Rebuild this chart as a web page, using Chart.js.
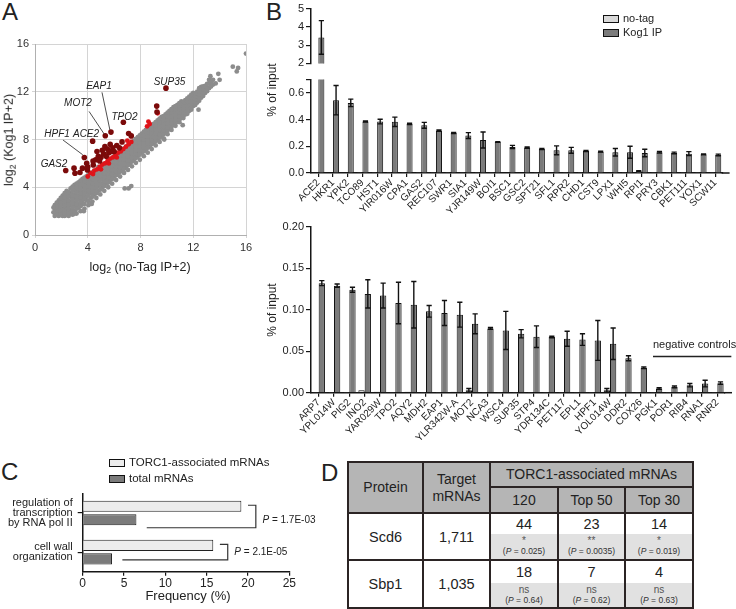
<!DOCTYPE html>
<html>
<head>
<meta charset="utf-8">
<title>Kog1 IP figure</title>
<script src="https://cdn.jsdelivr.net/npm/chart.js@4.4.1/dist/chart.umd.min.js"></script>
<style>
  body { margin: 0; background: #fff; }
  #fig { position: relative; width: 736px; height: 609px; overflow: hidden;
         font-family: "Liberation Sans", Arial, sans-serif; color: #222; }
  #fig canvas { position: absolute; }
  .txt { position: absolute; white-space: nowrap; line-height: 1; }
  .panel { position: absolute; font-size: 24px; line-height: 1; }
  .rot { transform: translate(-50%, -50%) rotate(-90deg); }
  .ctr { transform: translate(-50%, -50%); }
  .box { position: absolute; border: 1px solid #111; box-sizing: border-box; }
  sub { font-size: 70%; vertical-align: -0.3em; line-height: 0; }
  #tbl { position: absolute; background: #2b2424; }
  #tbl .cell { position: absolute; display: flex; flex-direction: column;
               align-items: center; justify-content: center; text-align: center; }
  #tbl .hdr { background: #b5b5b5; font-size: 14px; line-height: 17px; }
  #tbl .body { background: #fff; font-size: 14.5px; }
  #tbl .num { position: absolute; left: 0; right: 0; top: 0; display: flex;
              align-items: center; justify-content: center; font-size: 14.5px; background: #fff; }
  #tbl .pv { position: absolute; left: 0; right: 0; bottom: 0; background: #e1e1e1;
             display: flex; flex-direction: column; align-items: center; justify-content: center; }
  #tbl .sig { font-size: 10px; color: #555; line-height: 10px; }
  #tbl .pp { font-size: 8.5px; color: #333; line-height: 11px; }
</style>
</head>
<body>
<div id="fig">
  <div class="panel" style="left:2px;top:0px">A</div>
  <div class="panel" style="left:266px;top:0px">B</div>
  <div class="panel" style="left:1px;top:460px">C</div>
  <div class="panel" style="left:321px;top:461px">D</div>

  <canvas id="chartA" width="258" height="262" style="left:0;top:0"></canvas>
  <div class="txt rot" style="left:9px;top:140px;font-size:12.5px">log<sub>2</sub> (Kog1 IP+2)</div>
  <div class="txt ctr" style="left:140px;top:267px;font-size:12.5px">log<sub>2</sub> (no-Tag IP+2)</div>

  <canvas id="chartBup" width="476" height="72" style="left:260px;top:0"></canvas>
  <canvas id="chartBlow" width="476" height="160" style="left:260px;top:70px"></canvas>
  <canvas id="chartB2" width="476" height="235" style="left:260px;top:215px"></canvas>
  <div class="txt rot" style="left:272px;top:90px;font-size:12px">% of input</div>
  <div class="txt rot" style="left:272px;top:310px;font-size:12px">% of input</div>
  <div class="box" style="left:603px;top:15px;width:16px;height:8px;background:#d9d9d9"></div>
  <div class="txt" style="left:623px;top:13px;font-size:11px">no-tag</div>
  <div class="box" style="left:603px;top:29px;width:16px;height:8px;background:#7b7b7b"></div>
  <div class="txt" style="left:623px;top:27px;font-size:11px">Kog1 IP</div>

  <canvas id="chartC" width="330" height="131" style="left:0;top:478px"></canvas>
  <div class="box" style="left:109px;top:459px;width:16px;height:8px;background:#ececec"></div>
  <div class="txt" style="left:129px;top:457px;font-size:11.5px">TORC1-associated mRNAs</div>
  <div class="box" style="left:109px;top:475px;width:16px;height:8px;background:#7b7b7b"></div>
  <div class="txt" style="left:129px;top:473px;font-size:11.5px">total mRNAs</div>
  <div class="txt ctr" style="left:188px;top:595px;font-size:13px">Frequency (%)</div>

  <div id="tbl"></div>
</div>

<script>
// ==========================================
// DATA
// ==========================================

// Panel A: log2 values
const aTicks = [0, 4, 8, 12, 16];
// gray cloud, one row per x: [x, [y values]]
const grayCols = [
    [1.5, [1.6, 1.9, 2.2, 2.5]],
    [1.8, [1.6, 1.9, 2.3, 2.6, 2.9]],
    [2.1, [1.6, 1.9, 2.2, 2.6, 2.9, 3.3]],
    [2.4, [1.7, 2.0, 2.3, 2.7, 3.0, 3.4, 3.7]],
    [2.7, [1.8, 2.1, 2.5, 2.8, 3.2, 3.5, 3.9]],
    [3.0, [2.0, 2.4, 2.7, 3.1, 3.4, 3.8, 4.2]],
    [3.3, [2.3, 2.6, 3.0, 3.3, 3.7, 4.0, 4.4]],
    [3.6, [2.6, 2.9, 3.3, 3.6, 4.0, 4.3, 4.7]],
    [3.9, [2.9, 3.2, 3.6, 3.9, 4.3, 4.6, 4.9]],
    [4.2, [3.1, 3.5, 3.8, 4.2, 4.5, 4.8, 5.1]],
    [4.5, [3.4, 3.8, 4.1, 4.5, 4.8, 5.1, 5.4]],
    [4.8, [3.7, 4.1, 4.4, 4.8, 5.1, 5.4, 5.7]],
    [5.1, [4.0, 4.3, 4.7, 5.0, 5.3, 5.6, 5.9]],
    [5.4, [4.3, 4.6, 5.0, 5.3, 5.6, 6.0]],
    [5.7, [4.6, 4.9, 5.3, 5.6, 5.9, 6.3]],
    [6.0, [4.9, 5.2, 5.5, 5.9, 6.2, 6.6]],
    [6.3, [5.2, 5.5, 5.8, 6.2, 6.5, 6.8]],
    [6.6, [5.4, 5.8, 6.1, 6.4, 6.8, 7.1]],
    [6.9, [5.7, 6.1, 6.4, 6.7, 7.0, 7.4]],
    [7.2, [6.0, 6.3, 6.7, 7.0, 7.3, 7.6]],
    [7.5, [6.3, 6.6, 6.9, 7.3, 7.6, 7.9]],
    [7.8, [6.6, 6.9, 7.2, 7.5, 7.9, 8.2]],
    [8.1, [6.9, 7.2, 7.5, 7.8, 8.1, 8.5]],
    [8.4, [7.1, 7.5, 7.8, 8.1, 8.4, 8.8]],
    [8.7, [7.4, 7.8, 8.1, 8.4, 8.7, 9.0]],
    [9.0, [7.7, 8.0, 8.4, 8.7, 9.0, 9.3]],
    [9.3, [8.0, 8.3, 8.6, 9.0, 9.3, 9.6]],
    [9.6, [8.3, 8.6, 8.9, 9.2, 9.5, 9.9]],
    [9.9, [8.6, 8.9, 9.2, 9.5, 9.8, 10.1]],
    [10.2, [8.9, 9.2, 9.5, 9.8, 10.1, 10.4]],
    [10.5, [9.2, 9.5, 9.8, 10.1, 10.4, 10.7]],
    [10.8, [9.5, 9.8, 10.1, 10.4, 10.7, 10.9]],
    [11.1, [9.8, 10.1, 10.4, 10.7, 11.0, 11.2]],
    [11.4, [10.1, 10.4, 10.7, 11.0, 11.3]],
    [11.7, [10.4, 10.7, 11.0, 11.3, 11.6]],
    [12.0, [10.8, 11.1, 11.4, 11.7, 11.9]],
    [12.3, [11.1, 11.4, 11.7, 12.0]],
    [12.6, [11.5, 11.8, 12.1, 12.4]],
    [12.9, [11.9, 12.2, 12.5]],
    [13.2, [12.3, 12.7, 13.0]],
    [13.5, [12.6, 13.0]]
];
// second, staggered pass over the cloud (includes the fuzzier lower edge)
const grayCols2 = [
    [1.65, [1.75, 2.05, 2.35, 2.7]],
    [1.95, [1.75, 2.1, 2.45, 2.75, 3.1]],
    [2.25, [1.6, 1.85, 2.15, 2.45, 2.8, 3.15, 3.5]],
    [2.55, [1.6, 1.9, 2.2, 2.55, 2.9, 3.25, 3.6]],
    [2.85, [1.7, 2.0, 2.3, 2.65, 3.0, 3.35, 3.7, 4.05]],
    [3.15, [1.8, 2.2, 2.55, 2.9, 3.25, 3.6, 3.95, 4.3]],
    [3.45, [2.0, 2.4, 2.8, 3.15, 3.5, 3.85, 4.2, 4.55]],
    [3.75, [2.2, 2.6, 3.1, 3.45, 3.8, 4.15, 4.5, 4.8]],
    [4.05, [2.5, 2.85, 3.35, 3.7, 4.05, 4.4, 4.75, 5.05]],
    [4.35, [2.8, 3.2, 3.65, 4.0, 4.35, 4.7, 5.0, 5.25]],
    [4.65, [3.1, 3.5, 3.95, 4.3, 4.65, 5.0, 5.3]],
    [4.95, [3.4, 3.8, 4.25, 4.6, 4.95, 5.25, 5.55]],
    [5.25, [3.7, 4.1, 4.5, 4.85, 5.2, 5.5, 5.8]],
    [5.55, [4.0, 4.4, 4.8, 5.15, 5.45, 5.8, 6.1]],
    [5.85, [4.3, 4.7, 5.1, 5.45, 5.75, 6.1, 6.4]],
    [6.15, [4.6, 5.0, 5.35, 5.7, 6.05, 6.4, 6.7]],
    [6.45, [4.9, 5.3, 5.65, 6.0, 6.35, 6.65, 6.95]],
    [6.75, [5.2, 5.55, 5.95, 6.3, 6.6, 6.95, 7.25]],
    [7.05, [5.45, 5.85, 6.25, 6.55, 6.9, 7.2, 7.5]],
    [7.35, [5.75, 6.15, 6.5, 6.85, 7.15, 7.45, 7.75]],
    [7.65, [6.05, 6.45, 6.8, 7.1, 7.45, 7.75, 8.05]],
    [7.95, [6.3, 6.75, 7.05, 7.4, 7.7, 8.05, 8.35]],
    [8.25, [6.6, 7.0, 7.35, 7.65, 8.0, 8.3, 8.65]],
    [8.55, [6.9, 7.3, 7.65, 7.95, 8.25, 8.6, 8.9]],
    [8.85, [7.2, 7.6, 7.95, 8.25, 8.55, 8.85, 9.15]],
    [9.15, [7.5, 7.85, 8.2, 8.5, 8.85, 9.15, 9.45]],
    [9.45, [7.8, 8.15, 8.45, 8.8, 9.1, 9.4, 9.75]],
    [9.75, [8.1, 8.45, 8.75, 9.05, 9.35, 9.65, 9.95]],
    [10.05, [8.45, 8.75, 9.05, 9.35, 9.65, 9.95, 10.25]],
    [10.35, [8.8, 9.1, 9.35, 9.65, 9.95, 10.25, 10.55]],
    [10.65, [9.15, 9.4, 9.65, 9.95, 10.25, 10.55, 10.8]],
    [10.95, [9.45, 9.7, 9.95, 10.25, 10.55, 10.85, 11.05]],
    [11.25, [9.8, 10.0, 10.3, 10.55, 10.85, 11.15]],
    [11.55, [10.15, 10.35, 10.6, 10.85, 11.15, 11.45]],
    [11.85, [10.5, 10.7, 10.95, 11.2, 11.5, 11.75]],
    [12.15, [10.9, 11.1, 11.35, 11.6, 11.85]],
    [12.45, [11.25, 11.5, 11.75, 12.05, 12.3]],
    [12.75, [11.65, 11.9, 12.2, 12.45]],
    [13.05, [12.05, 12.35, 12.65]],
    [13.35, [12.45, 12.8]]
];
const grayOutliers = [[13.9, 13.5], [13.3, 13.3], [15.0, 14.1], [15.3, 13.7], [15.4, 14.0], [16.0, 15.2],
    [6.8, 3.9], [7.1, 3.9], [7.3, 4.1], [3.7, 2.0], [11.2, 9.2], [12.4, 10.5], [9.8, 8.0], [3.0, 1.8], [4.3, 2.6],
    [1.4, 1.9], [1.4, 2.3], [14.0, 13.0], [13.7, 12.7]];
const redPts = [[4.0, 4.9], [4.2, 5.2], [4.4, 5.1], [4.5, 5.4], [4.7, 5.5], [4.9, 5.7], [5.0, 5.5], [5.1, 5.9],
    [5.3, 6.0], [5.5, 6.2], [5.6, 6.0], [5.7, 6.4], [5.9, 6.5], [6.1, 6.7], [6.2, 6.5], [6.3, 6.9], [6.5, 7.0],
    [6.7, 7.2], [6.9, 7.4], [7.0, 7.9], [7.1, 7.6], [7.3, 7.8], [8.5, 9.1], [8.6, 9.5], [8.7, 9.3], [9.3, 10.2]];
const darkPts = [[9.23, 10.8], [9.25, 10.3], [7.1, 8.5], [7.3, 8.3], [2.96, 5.6], [3.41, 5.23], [3.03, 5.17],
    [3.92, 6.0], [3.97, 5.45], [4.42, 5.87], [4.6, 6.3], [4.8, 6.6], [4.7, 7.0], [5.0, 6.5], [5.1, 7.1], [5.2, 6.8],
    [5.3, 7.4], [5.5, 7.2], [5.6, 6.9], [5.7, 7.6], [5.9, 7.3], [6.0, 7.0], [6.2, 7.5], [6.4, 7.3], [5.4, 6.6],
    [4.9, 6.2], [6.6, 7.8], [5.8, 7.0], [4.4, 6.2], [4.0, 5.7], [3.6, 5.6]];
const aGenes = ['GAS2', 'HPF1', 'ACE2', 'MOT2', 'EAP1', 'TPO2', 'SUP35'];
const aGenePts = [[2.33, 5.4], [3.74, 6.49], [4.37, 7.86], [5.33, 8.31], [5.76, 8.62], [6.7, 9.45], [9.93, 12.3]];

// Panel B top: % of input
const topGenes = ['ACE2', 'HKR1', 'YPK2', 'TCO89', 'HST1', 'YIR016W', 'CPA1', 'GAS2', 'REC107', 'SWR1', 'SIA1',
    'YJR149W', 'BOI1', 'BSC1', 'GSC2', 'SPT21', 'SFL1', 'RPR2', 'CHD1', 'CST9', 'LPX1', 'WHI5', 'RPI1', 'PRY3',
    'CBK1', 'PET111', 'YOX1', 'SCW11'];
const topKog = [3.42, 0.545, 0.525, 0.385, 0.385, 0.383, 0.367, 0.357, 0.317, 0.30, 0.28, 0.247, 0.232, 0.195,
    0.19, 0.18, 0.17, 0.17, 0.165, 0.16, 0.155, 0.155, 0.15, 0.155, 0.15, 0.145, 0.14, 0.135];
const topKogErr = [0.92, 0.11, 0.028, 0.004, 0.017, 0.035, 0.005, 0.022, 0.005, 0.004, 0.022, 0.06, 0.003, 0.012,
    0.005, 0.004, 0.033, 0.022, 0.004, 0.003, 0.028, 0.045, 0.028, 0.006, 0.006, 0.015, 0.003, 0.006];
const topNoTag = [0.004, 0.002, 0.003, 0.001, 0.001, 0.001, 0.001, 0.001, 0.001, 0.001, 0.001, 0.001, 0.001, 0.004,
    0.002, 0.001, 0.003, 0.001, 0.001, 0.001, 0.003, 0.001, 0.014, 0.001, 0.001, 0.001, 0.001, 0.001];
const topNoTagErr = [0, 0, 0, 0, 0, 0, 0, 0, 0, 0, 0, 0, 0, 0, 0, 0, 0, 0, 0, 0, 0, 0, 0.003, 0, 0, 0, 0, 0];
const topUpTicks = [2, 3, 4, 5];
const topLowTicks = [0, 0.2, 0.4, 0.6, 0.7];

// Panel B bottom: % of input
const botGenes = ['ARP7', 'YPL014W', 'PIG2', 'INO2', 'YAR029W', 'TPO2', 'AQY2', 'MDH2', 'EAP1', 'YLR342W-A',
    'MOT2', 'NCA3', 'WSC4', 'SUP35', 'STP4', 'YDR134C', 'PET117', 'EPL1', 'HPF1', 'YOL014W', 'DDR2', 'COX26',
    'PGK1', 'POR1', 'RIB4', 'RNA1', 'RNR2'];
const botKog = [0.132, 0.129, 0.124, 0.119, 0.117, 0.108, 0.106, 0.098, 0.096, 0.094, 0.083, 0.0775, 0.075,
    0.071, 0.0675, 0.067, 0.065, 0.064, 0.063, 0.059, 0.0415, 0.030, 0.005, 0.007, 0.009, 0.011, 0.0115];
const botKogErr = [0.003, 0.002, 0.003, 0.017, 0.015, 0.025, 0.028, 0.007, 0.015, 0.015, 0.012, 0.001, 0.023,
    0.005, 0.013, 0.001, 0.009, 0.007, 0.024, 0.019, 0.003, 0.001, 0.001, 0.001, 0.002, 0.004, 0.0015];
const botNoTag = [0.0005, 0.0005, 0.0005, 0.003, 0.001, 0.0005, 0.001, 0.0005, 0.0005, 0.001, 0.003, 0.0005,
    0.0005, 0.0005, 0.0005, 0.0005, 0.0005, 0.0005, 0.0005, 0.003, 0.0005, 0.0005, 0.0005, 0.0005, 0.001, 0.0005, 0.0005];
const botNoTagErr = [0, 0, 0, 0, 0, 0, 0, 0, 0, 0, 0.002, 0, 0, 0, 0, 0, 0, 0, 0, 0.002, 0, 0, 0, 0, 0, 0, 0];
const botTicks = [0, 0.05, 0.10, 0.15, 0.20];
const negControls = ['PGK1', 'RNR2'];

// Panel C: GO term frequency (%)
const cCats = [['regulation of', 'transcription', 'by RNA pol II'], ['cell wall', 'organization']];
const cTorc = [19.2, 15.8];
const cTotal = [6.5, 3.55];
const cPvals = ['1.7E-03', '2.1E-05'];
const cTicks = [0, 5, 10, 15, 20, 25];

// Panel D: table
const dProteins = ['Scd6', 'Sbp1'];
const dTargets = ['1,711', '1,035'];
const dSubsets = ['120', 'Top 50', 'Top 30'];
const dOverlap = [[44, 23, 14], [18, 7, 4]];
const dSignif = [['*', '**', '*'], ['ns', 'ns', 'ns']];
const dPvals = [['0.025', '0.0035', '0.019'], ['0.64', '0.62', '0.63']];

// ==========================================
// SHARED STYLE / PLUGINS
// ==========================================
const FONT = '"Liberation Sans", Arial, sans-serif';
const AX = '#161616';
Chart.defaults.font.family = FONT;
Chart.defaults.color = '#222';

const errorBars = {
    id: 'errorBars',
    afterDatasetsDraw(chart) {
        const ctx = chart.ctx, y = chart.scales.y, a = chart.chartArea;
        ctx.save();
        ctx.beginPath();
        ctx.rect(a.left, a.top - 2, a.right - a.left, a.bottom - a.top + 2);
        ctx.clip();
        ctx.strokeStyle = '#111';
        ctx.lineWidth = 1.4;
        chart.data.datasets.forEach((ds, i) => {
            if (!ds.errors) return;
            chart.getDatasetMeta(i).data.forEach((bar, j) => {
                const v = ds.data[j], e = ds.errors[j];
                if (v == null || !e) return;
                const hi = y.getPixelForValue(v + e), lo = y.getPixelForValue(Math.max(v - e, 0));
                const cw = 2.6;
                ctx.beginPath();
                ctx.moveTo(bar.x, hi); ctx.lineTo(bar.x, lo);
                ctx.moveTo(bar.x - cw, hi); ctx.lineTo(bar.x + cw, hi);
                ctx.moveTo(bar.x - cw, lo); ctx.lineTo(bar.x + cw, lo);
                ctx.stroke();
            });
        });
        ctx.restore();
    }
};

// x axis line runs a few px past the last category
const axisTail = {
    id: 'axisTail',
    afterDraw(chart) {
        const a = chart.chartArea, ctx = chart.ctx;
        ctx.save();
        ctx.strokeStyle = AX;
        ctx.lineWidth = 1.5;
        ctx.beginPath();
        ctx.moveTo(a.right - 1, a.bottom);
        ctx.lineTo(a.right + 7, a.bottom);
        ctx.stroke();
        ctx.restore();
    }
};

function bChart(id, genes, noTag, noTagErr, kog, kogErr, cfg) {
    return new Chart(document.getElementById(id), {
        type: 'bar',
        data: {
            labels: genes,
            datasets: [
                { label: 'no-tag', data: noTag, errors: noTagErr, backgroundColor: '#d9d9d9',
                  borderColor: '#111', borderWidth: 1, categoryPercentage: 0.82, barPercentage: 1, clip: 0 },
                { label: 'Kog1 IP', data: kog, errors: kogErr, backgroundColor: '#7b7b7b',
                  borderColor: '#111', borderWidth: 1, categoryPercentage: 0.82, barPercentage: 1, clip: 0 }
            ]
        },
        options: {
            responsive: false,
            animation: false,
            layout: { padding: cfg.pad },
            plugins: { legend: { display: false }, tooltip: { enabled: false } },
            scales: {
                x: {
                    display: cfg.showX,
                    grid: { offset: false, drawOnChartArea: false, tickLength: 4, color: AX, lineWidth: 1.2 },
                    border: { color: AX, width: 1.5 },
                    ticks: { autoSkip: false, minRotation: 45, maxRotation: 45, padding: 0,
                             font: { size: 10 }, color: '#222' },
                    afterFit: s => { s.height = cfg.xH; }
                },
                y: {
                    min: cfg.ticks[0],
                    max: cfg.ticks[cfg.ticks.length - 1],
                    afterBuildTicks: s => { s.ticks = cfg.ticks.map(v => ({ value: v })); },
                    ticks: { callback: cfg.fmt, padding: 2, font: { size: 11 }, color: '#222' },
                    grid: { drawOnChartArea: false, tickLength: 5, color: AX, lineWidth: 1.2 },
                    border: { color: AX, width: 1.5 },
                    afterFit: s => { s.width = 51; }
                }
            }
        },
        plugins: [errorBars].concat(cfg.plugins || [])
    });
}

// ==========================================
// PANEL A - SCATTER
// ==========================================
const aLabelStyle = {
    GAS2: { tx: 1.44, ty: 5.95 },
    HPF1: { tx: 1.67, ty: 8.46, line: [2.12, 7.96, 3.62, 6.72] },
    ACE2: { tx: 3.87, ty: 8.46 },
    MOT2: { tx: 3.26, ty: 11.05, line: [4.1, 10.35, 5.25, 8.45] },
    EAP1: { tx: 4.85, ty: 12.5, line: [5.08, 11.95, 5.68, 8.8] },
    TPO2: { tx: 6.79, ty: 9.88 },
    SUP35: { tx: 10.2, ty: 12.8 }
};

const geneLabels = {
    id: 'geneLabels',
    afterDatasetsDraw(chart) {
        const ctx = chart.ctx, xs = chart.scales.x, ys = chart.scales.y;
        ctx.save();
        ctx.font = 'italic 10px ' + FONT;
        ctx.fillStyle = '#222';
        ctx.strokeStyle = '#222';
        ctx.lineWidth = 0.8;
        ctx.textAlign = 'center';
        ctx.textBaseline = 'middle';
        aGenes.forEach(g => {
            const s = aLabelStyle[g];
            ctx.fillText(g, xs.getPixelForValue(s.tx), ys.getPixelForValue(s.ty));
            if (s.line) {
                ctx.beginPath();
                ctx.moveTo(xs.getPixelForValue(s.line[0]), ys.getPixelForValue(s.line[1]));
                ctx.lineTo(xs.getPixelForValue(s.line[2]), ys.getPixelForValue(s.line[3]));
                ctx.stroke();
            }
        });
        ctx.restore();
    }
};

const grayData = [];
grayCols.concat(grayCols2).forEach(([x, ys]) => ys.forEach(y => grayData.push({ x: x, y: y })));
grayOutliers.forEach(([x, y]) => grayData.push({ x: x, y: y }));

const aAxis = {
    type: 'linear', min: 0, max: 16,
    afterBuildTicks: s => { s.ticks = aTicks.map(v => ({ value: v })); },
    grid: { color: '#d4d4d4', lineWidth: 1, tickLength: 3 },
    border: { color: '#b0b0b0', width: 1 },
    ticks: { font: { size: 11 }, color: '#333', padding: 3 }
};

new Chart(document.getElementById('chartA'), {
    type: 'scatter',
    data: {
        datasets: [
            { data: darkPts.concat(aGenePts).map(p => ({ x: p[0], y: p[1] })), order: 0,
              backgroundColor: '#7b0a0a', pointRadius: 2.8, borderWidth: 0 },
            { data: redPts.map(p => ({ x: p[0], y: p[1] })), order: 1,
              backgroundColor: '#e0141a', pointRadius: 2.4, borderWidth: 0 },
            { data: grayData, order: 2, backgroundColor: '#8c8c8c', pointRadius: 2.4, borderWidth: 0 }
        ]
    },
    options: {
        responsive: false,
        animation: false,
        layout: { padding: { top: 44, right: 12, left: 0, bottom: 0 } },
        plugins: { legend: { display: false }, tooltip: { enabled: false } },
        scales: {
            x: Object.assign({}, aAxis, { afterFit: s => { s.height = 27; } }),
            y: Object.assign({}, aAxis, { afterFit: s => { s.width = 35; } })
        }
    },
    plugins: [geneLabels]
});

// ==========================================
// PANEL B - BAR CHARTS
// ==========================================
bChart('chartBup', topGenes, topNoTag.map(() => null), topNoTagErr,
    topKog.map(v => (v >= topUpTicks[0] ? v : null)), topKogErr, {
        showX: false, xH: 0, ticks: topUpTicks,
        pad: { top: 6, bottom: 3, left: 0, right: 13.4 },
        fmt: v => String(v)
    });

bChart('chartBlow', topGenes, topNoTag, topNoTagErr, topKog, topKogErr, {
    showX: true, xH: 57, ticks: topLowTicks,
    pad: { top: 9.5, bottom: 0, left: 0, right: 13.4 },
    fmt: v => (v > 0.65 ? '' : v.toFixed(1)),
    plugins: [axisTail]
});

const negLabel = {
    id: 'negLabel',
    afterDraw(chart) {
        const ctx = chart.ctx, xs = chart.scales.x, ys = chart.scales.y;
        const x0 = xs.getPixelForValue(botGenes.indexOf(negControls[0])) - 3;
        const x1 = xs.getPixelForValue(botGenes.indexOf(negControls[1])) + 14;
        const yl = ys.getPixelForValue(0.0437);
        ctx.save();
        ctx.strokeStyle = '#222';
        ctx.lineWidth = 1.5;
        ctx.beginPath();
        ctx.moveTo(x0, yl); ctx.lineTo(x1, yl);
        ctx.stroke();
        ctx.font = '11px ' + FONT;
        ctx.fillStyle = '#222';
        ctx.textBaseline = 'middle';
        ctx.fillText('negative controls', x0, yl - 11);
        ctx.restore();
    }
};

bChart('chartB2', botGenes, botNoTag, botNoTagErr, botKog, botKogErr, {
    showX: true, xH: 57.3, ticks: botTicks,
    pad: { top: 11.7, bottom: 0, left: 0, right: 11 },
    fmt: v => v.toFixed(2),
    plugins: [axisTail, negLabel]
});

// ==========================================
// PANEL C - HORIZONTAL BARS
// ==========================================
const cBracketStyle = { topGap: 0.8, armOut: 1.75, botGap: 1.25, drop: [8, 1], textGap: 0.8 };

const cBrackets = {
    id: 'cBrackets',
    afterDatasetsDraw(chart) {
        const ctx = chart.ctx, xs = chart.scales.x, st = cBracketStyle;
        ctx.save();
        ctx.strokeStyle = '#333';
        ctx.lineWidth = 1.2;
        ctx.fillStyle = '#222';
        ctx.textBaseline = 'middle';
        cPvals.forEach((p, i) => {
            const a = chart.getDatasetMeta(0).data[i], b = chart.getDatasetMeta(1).data[i];
            const xv = cTorc[i] + st.armOut;
            const xr = xs.getPixelForValue(xv);
            const yt = a.y - 1, yb = b.y + st.drop[i];
            ctx.beginPath();
            ctx.moveTo(xs.getPixelForValue(cTorc[i] + st.topGap), yt);
            ctx.lineTo(xr, yt);
            ctx.lineTo(xr, yb);
            ctx.lineTo(xs.getPixelForValue(cTotal[i] + st.botGap), yb);
            ctx.stroke();
            const tx = xs.getPixelForValue(xv + st.textGap), ty = (yt + yb) / 2 + (i === 0 ? 4 : 0);
            ctx.font = 'italic 10px ' + FONT;
            ctx.fillText('P', tx, ty);
            const w = ctx.measureText('P').width;
            ctx.font = '10px ' + FONT;
            ctx.fillText(' = ' + p, tx + w, ty);
        });
        ctx.restore();
    }
};

new Chart(document.getElementById('chartC'), {
    type: 'bar',
    data: {
        labels: cCats,
        datasets: [
            { label: 'TORC1-associated mRNAs', data: cTorc, backgroundColor: '#ececec', borderColor: '#222',
              borderWidth: 1, categoryPercentage: 0.69, barPercentage: 0.82 },
            { label: 'total mRNAs', data: cTotal, backgroundColor: '#7b7b7b', borderColor: '#222',
              borderWidth: 1, categoryPercentage: 0.69, barPercentage: 0.82 }
        ]
    },
    options: {
        indexAxis: 'y',
        responsive: false,
        animation: false,
        layout: { padding: { top: 9, right: 40.7, left: 0, bottom: 0 } },
        plugins: { legend: { display: false }, tooltip: { enabled: false } },
        scales: {
            x: {
                min: 0, max: 25,
                afterBuildTicks: s => { s.ticks = cTicks.map(v => ({ value: v })); },
                grid: { drawOnChartArea: false, tickLength: 4, color: AX, lineWidth: 1.2 },
                border: { color: AX, width: 1.5 },
                ticks: { font: { size: 12 }, color: '#222', padding: 1 },
                afterFit: s => { s.height = 37.3; }
            },
            y: {
                grid: { offset: false, drawOnChartArea: false, tickLength: 5, color: AX, lineWidth: 1.2 },
                border: { color: AX, width: 1.5 },
                ticks: { font: { size: 11, lineHeight: 0.95 }, color: '#222', padding: 5 },
                afterFit: s => { s.width = 82.7; }
            }
        }
    },
    plugins: [cBrackets]
});

// ==========================================
// PANEL D - TABLE
// ==========================================
const dColX = [348, 423, 490, 558, 625, 693];
const dRowY = [462, 487, 513, 534, 560, 583, 608];

function buildTable() {
    const tbl = document.getElementById('tbl');
    const ox = dColX[0] - 1, oy = dRowY[0] - 1;
    tbl.style.left = ox + 'px';
    tbl.style.top = oy + 'px';
    tbl.style.width = (dColX[5] - dColX[0] + 2) + 'px';
    tbl.style.height = (dRowY[6] - dRowY[0] + 2) + 'px';

    function cell(c0, c1, r0, r1, cls, html) {
        const d = document.createElement('div');
        d.className = 'cell ' + cls;
        d.style.left = (dColX[c0] - ox + 1) + 'px';
        d.style.top = (dRowY[r0] - oy + 1) + 'px';
        d.style.width = (dColX[c1] - dColX[c0] - 2) + 'px';
        d.style.height = (dRowY[r1] - dRowY[r0] - 2) + 'px';
        d.innerHTML = html;
        tbl.appendChild(d);
        return d;
    }

    cell(0, 1, 0, 2, 'hdr', 'Protein');
    cell(1, 2, 0, 2, 'hdr', 'Target<br>mRNAs');
    cell(2, 5, 0, 1, 'hdr', 'TORC1-associated mRNAs');
    dSubsets.forEach((s, k) => cell(2 + k, 3 + k, 1, 2, 'hdr', s));

    dProteins.forEach((p, r) => {
        const r0 = 2 + r * 2;
        cell(0, 1, r0, r0 + 2, 'body', p);
        cell(1, 2, r0, r0 + 2, 'body', dTargets[r]);
        dSubsets.forEach((s, k) => {
            const d = cell(2 + k, 3 + k, r0, r0 + 2, 'body', '');
            const split = dRowY[r0 + 1] - dRowY[r0] - 1;
            d.innerHTML =
                '<div class="num" style="height:' + split + 'px">' + dOverlap[r][k] + '</div>' +
                '<div class="pv" style="top:' + split + 'px">' +
                '<div class="sig">' + dSignif[r][k] + '</div>' +
                '<div class="pp">(<i>P</i> = ' + dPvals[r][k] + ')</div></div>';
        });
    });
}
buildTable();
</script>
</body>
</html>
